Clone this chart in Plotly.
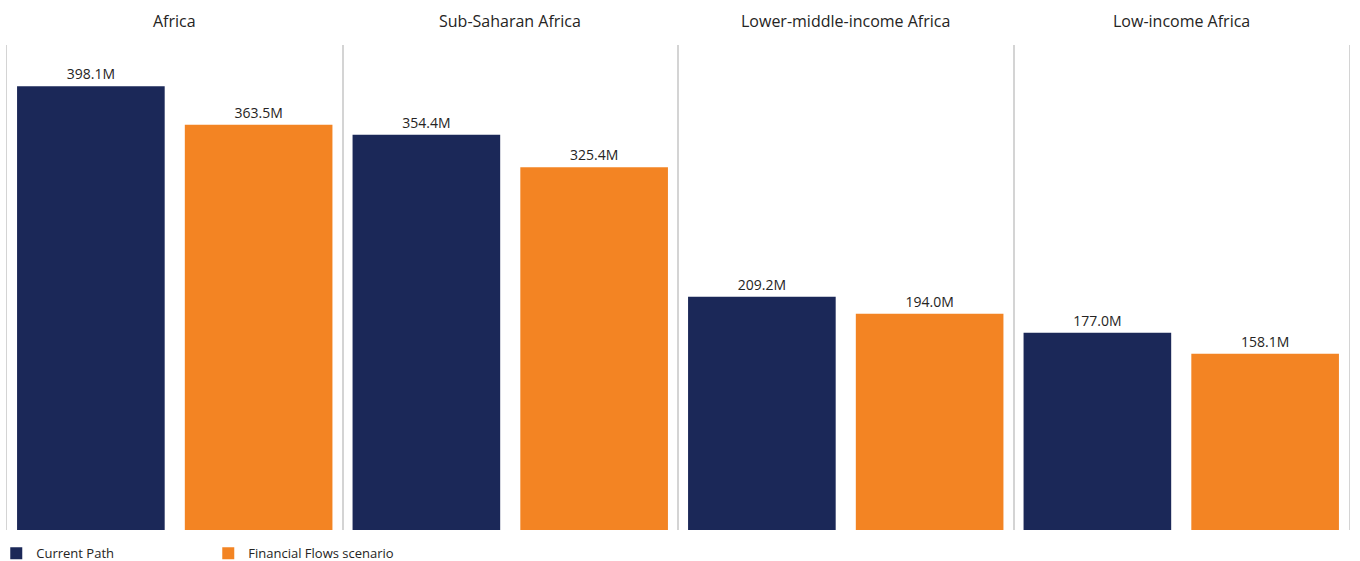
import plotly.graph_objects as go
from plotly.subplots import make_subplots

# Regions shown as side-by-side panels
regions = ["Africa", "Sub-Saharan Africa", "Lower-middle-income Africa", "Low-income Africa"]

# Scenario names (legend entries)
scenarios = ["Current Path", "Financial Flows scenario"]

# Values in millions for each scenario, one per region
current_path = [398.1, 354.4, 209.2, 177.0]
financial_flows = [363.5, 325.4, 194.0, 158.1]

colors = {"Current Path": "#1b2858", "Financial Flows scenario": "#f38423"}
text_color = "#252423"
font_family = "Open Sans, Segoe UI, Arial, sans-serif"

fig = make_subplots(rows=1, cols=4, subplot_titles=regions, horizontal_spacing=0)

for i, region in enumerate(regions):
    for name, series in (("Current Path", current_path), ("Financial Flows scenario", financial_flows)):
        v = series[i]
        fig.add_trace(
            go.Bar(
                x=[name],
                y=[v],
                name=name,
                legendgroup=name,
                showlegend=(i == 0),
                marker=dict(color=colors[name], line=dict(width=0)),
                text=[f"{v:.1f}M"],
                textposition="outside",
                cliponaxis=False,
                textfont=dict(size=14, color=text_color, family=font_family),
                hovertemplate=f"{region}<br>{name}: %{{y:.1f}}M<extra></extra>",
            ),
            row=1,
            col=i + 1,
        )
    fig.update_xaxes(
        row=1, col=i + 1,
        categoryorder="array", categoryarray=scenarios,
        showticklabels=False, showgrid=False, zeroline=False,
        showline=False, ticks="",
    )
    fig.update_yaxes(
        row=1, col=i + 1,
        range=[0, 435], showticklabels=False, showgrid=False, zeroline=False,
        showline=True, linecolor="#d4d4d4", linewidth=1, mirror=True, ticks="",
    )

for ann in fig.layout.annotations:
    ann.font = dict(size=16, color=text_color, family=font_family)
    ann.yshift = 11

fig.update_layout(
    width=1360,
    height=561,
    margin=dict(l=7, r=11, t=45, b=31, autoexpand=False),
    bargap=0.12,
    plot_bgcolor="white",
    paper_bgcolor="white",
    font=dict(family=font_family, color=text_color),
    legend=dict(
        orientation="h",
        x=-0.008, xref="paper", xanchor="left",
        y=-0.017, yref="paper", yanchor="top",
        entrywidth=167, entrywidthmode="pixels",
        font=dict(size=13, color=text_color, family=font_family),
        traceorder="normal",
        itemclick=False, itemdoubleclick=False,
    ),
)

fig.write_html("out.html")
